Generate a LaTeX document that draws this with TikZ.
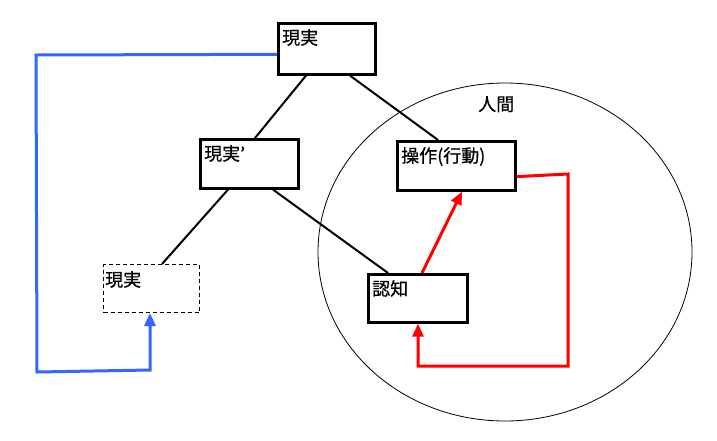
\documentclass[tikz,border=0pt]{standalone}
\usepackage{fontspec}
\setmainfont{Noto Sans CJK JP}
\newfontfamily\boxfont[FakeBold=0.7]{Noto Sans CJK JP}
\usetikzlibrary{arrows.meta,shapes.geometric}
\definecolor{myblue}{RGB}{51,102,255}
\definecolor{myred}{RGB}{255,0,0}
\tikzset{
  box/.style={draw=black, line width=2.6pt, fill=white, anchor=north west, inner sep=0pt},
  dbox/.style={draw=black, line width=1pt, dash pattern=on 4pt off 3pt, fill=white, anchor=north west, inner sep=0pt},
  lbl/.style={anchor=north west, inner sep=0pt, font=\boxfont\fontsize{18pt}{20pt}\selectfont},
  link/.style={draw=black, line width=2pt},
  redline/.style={draw=myred, line width=3pt},
  blueline/.style={draw=myblue, line width=3pt},
  tip/.style={-{Triangle[width=11pt,length=13pt]}}
}
\begin{document}
\begin{tikzpicture}[x=1pt,y=-1pt]
\useasboundingbox (0,0) rectangle (717,440);
\node[draw=black, line width=0.8pt, ellipse, minimum width=374pt, minimum height=338pt, inner sep=0pt] (human) at (505,252) {};
\node[lbl] (humanlbl) at (478,96) {人間};
\node[box, minimum width=97pt, minimum height=51pt] (r1) at (277,22) {};
\node[box, minimum width=98pt, minimum height=49pt] (r2) at (199,138) {};
\node[dbox, minimum width=96pt, minimum height=48pt] (r3) at (103,264) {};
\node[box, minimum width=118pt, minimum height=49pt] (r4) at (396,140) {};
\node[box, minimum width=99pt, minimum height=48pt] (r5) at (367,273) {};
\draw[link] ([xshift=29pt]r1.south west) -- ([xshift=56pt]r2.north west);
\draw[link] ([xshift=73pt]r1.south west) -- ([xshift=42pt]r4.north west);
\draw[link] ([xshift=29pt]r2.south west) -- ([xshift=59pt]r3.north west);
\draw[link] ([xshift=74pt]r2.south west) -- ([xshift=21pt]r5.north west);
\node[lbl] (t1) at ([shift={(5,7)}]r1.north west) {現実};
\node[lbl] (t2) at ([shift={(5,7)}]r2.north west) {現実’};
\node[lbl] (t3) at ([shift={(2,7)}]r3.north west) {現実};
\node[lbl] (t4) at ([shift={(5,7)}]r4.north west) {操作(行動)};
\node[lbl] (t5) at ([shift={(5,7)}]r5.north west) {認知};
% red
\draw[redline, tip] ([xshift=55pt]r5.north west) -- ([xshift=66pt]r4.south west);
\coordinate (ra) at (568,174);
\coordinate (rb) at (568,366);
\draw[redline, tip] ([yshift=15pt]r4.south east) -- (ra) -- (rb) -| ([xshift=51pt]r5.south west);
% blue
\coordinate (ba) at (36,55);
\coordinate (bb) at (37,372);
\coordinate (bc) at (150,370);
\draw[blueline, tip] ([yshift=-5.5pt]r1.west) -- (ba) -- (bb) -- (bc) -- ([xshift=47pt]r3.south west);
\end{tikzpicture}
\end{document}
